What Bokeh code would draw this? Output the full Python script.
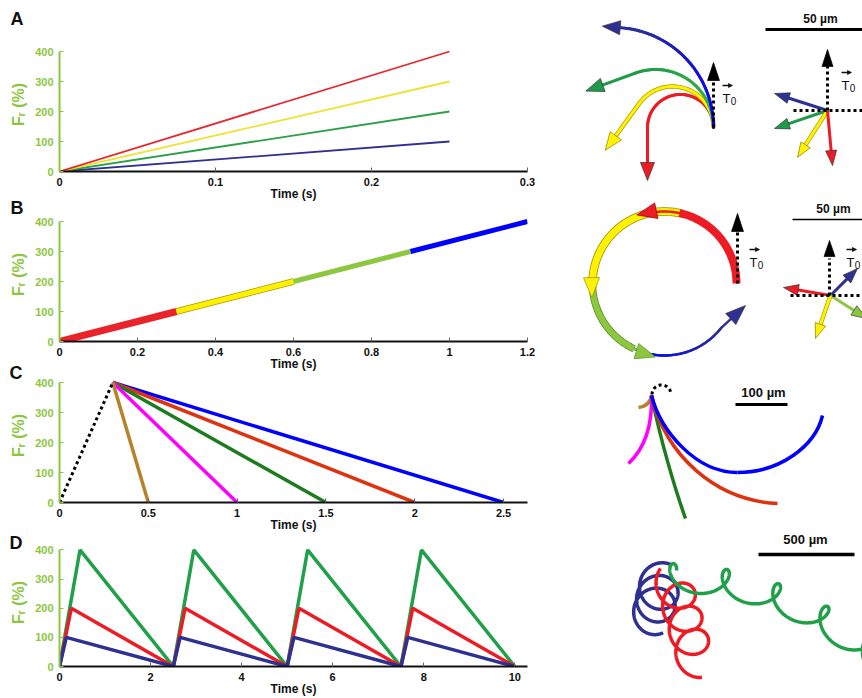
import numpy as np
from bokeh.plotting import figure
from bokeh.models import Range1d, FixedTicker
from bokeh.layouts import row, column
from bokeh.embed import file_html
from bokeh.resources import INLINE
from bokeh.core.properties import value

FONT = "Liberation Sans"
AX_GREEN = "#8cc63f"

# ---------------- chart data ----------------
Y_TICKS = [0, 100, 200, 300, 400]

A_time = [0.0, 0.25]
A_red = [0, 400]
A_yellow = [0, 300]
A_green = [0, 200]
A_blue = [0, 100]
A_xticks = [0, 0.1, 0.2, 0.3]
A_xlabels = ["0", "0.1", "0.2", "0.3"]

B_time = [0.0, 0.3, 0.6, 0.9, 1.2]
B_force = [0, 100, 200, 300, 400]
B_colors = ["#e8232a", "#fff000", "#8dc63f", "#0000ff"]
B_widths = [7, 5, 5, 5]
B_xticks = [0, 0.2, 0.4, 0.6, 0.8, 1.0, 1.2]
B_xlabels = ["0", "0.2", "0.4", "0.6", "0.8", "1", "1.2"]

C_ramp_time = [0.0, 0.3]
C_ramp_force = [0, 400]
C_decay_end = [2.5, 2.0, 1.5, 1.0, 0.5]
C_colors = ["#0000ff", "#dd3311", "#1e7b1e", "#ff00ff", "#b5832a"]
C_xticks = [0, 0.5, 1.0, 1.5, 2.0, 2.5]
C_xlabels = ["0", "0.5", "1", "1.5", "2", "2.5"]

D_time_green = [0.0, 0.45, 2.5, 2.95, 5.0, 5.45, 7.5, 7.95, 10.0]
D_force_green = [0, 400, 0, 400, 0, 400, 0, 400, 0]
D_time_red = [0.0, 0.26, 2.5, 2.76, 5.0, 5.26, 7.5, 7.76, 10.0]
D_force_red = [0, 200, 0, 200, 0, 200, 0, 200, 0]
D_time_blue = [0.0, 0.15, 2.5, 2.65, 5.0, 5.15, 7.5, 7.65, 10.0]
D_force_blue = [0, 100, 0, 100, 0, 100, 0, 100, 0]
D_xticks = [0, 2, 4, 6, 8, 10]
D_xlabels = ["0", "2", "4", "6", "8", "10"]

PANEL_LETTERS = ["A", "B", "C", "D"]
LETTER_X = [10, 10, 9, 9]
LETTER_BASE = [18, 207, 372, 542]
YLABEL_TEXT = "Fᵣ (%)"
YLABEL_X = 18
YLABEL_Y = [104, 274, 435, 602]

# ---------------- drawing parameters (right column, pixel space) ----------------
A_origin = (713, 127)
A_radius = [33, 41, 58, 100]
A_turn = [180, 144, 110, 85]
A_straight = [53, 58, 53, 20]
A_col0 = ["#ed1c24", "#fff200", "#3cb54a", "#0000ff"]
A_col1 = ["#ed1c24", "#fff200", "#1f9a48", "#2e3192"]

A_vec_origin = (827, 110)
A_vec_tip_x = [774, 774, 797, 832]
A_vec_tip_y = [93, 128, 157, 165]
A_vec_col = ["#2e3192", "#1f9a48", "#fff200", "#ed1c24"]

B_circle = (664, 283, 72)
B_band_from = [0, 76, 178]
B_band_to = [78, 180, 245]
B_band_col = ["#ed1c24", "#fff200", "#8dc63f"]
B_band_edge = [None, "#9a8c00", "#5f8f25"]
B_band_w = [8, 7, 6]
B_head_phi = [112, 191, 263]
B_blue_from, B_blue_to = 245, 322
B_blue_tip = (745, 305)

B_vec_origin = (830, 295)
B_vec_tip_x = [783, 857, 866, 815]
B_vec_tip_y = [287, 268, 318, 338]
B_vec_col = ["#ed1c24", "#2e3192", "#8dc63f", "#fff200"]

C_origin = (651, 395)
C_end_x = [638, 628, 685, 777, 737]
C_end_y = [407, 463, 518, 503, 472]
C_c0x = [650, 652, 660, 665, 660]
C_c0y = [402, 425, 440, 455, 430]
C_c1x = [645, 645, 675, 715, 695]
C_c1y = [406, 447, 490, 500, 472]
C_curve_col = ["#b5832a", "#ff00ff", "#1e7b1e", "#dd3311", "#0000ff"]
C_blue2 = (737, 472, 822, 415, 780, 472, 815, 445)

D_start_x = [670, 660, 676]
D_start_y = [564, 568, 570]
D_alpha0 = [103, 74, 0]
D_alpha1 = [103, 74, 45]
D_drift = [13, 24, 53]
D_loop_r = [20, 18, 14]
D_cycles = [2.67, 3.43, 4.7]
D_psi0 = [60, 135, 30]
D_col = ["#2e3192", "#ed1c24", "#1fa049"]

SCALE_X0 = [765, 792, 735, 758]
SCALE_X1 = [862, 862, 787, 854]
SCALE_Y = [29, 219, 404, 554]
SCALE_W = [3, 1.5, 3, 3.5]
SCALE_TXT = ["50 µm", "50 µm", "100 µm", "500 µm"]
SCALE_TX = [820, 833, 763, 805]
SCALE_TY = [18, 208, 392, 539]
SCALE_FS = ["12px", "12px", "13px", "13px"]

GUTTER_W = 28
CHART_W = 540


# ---------------- charts ----------------
def chart(h, b_top, f_h, b_left, b_right, x_end, y_end, xticks, xlabels):
    p = figure(width=CHART_W, height=h, min_border_top=b_top, min_border_bottom=h - b_top - f_h,
               min_border_left=b_left, min_border_right=b_right,
               x_range=Range1d(0, x_end), y_range=Range1d(0, y_end),
               output_backend="svg", toolbar_location=None,
               x_axis_label="Time (s)")
    p.grid.visible = False
    p.outline_line_color = None
    xa = p.xaxis[0]
    ya = p.yaxis[0]
    xa.ticker = FixedTicker(ticks=xticks)
    xa.major_label_overrides = dict(zip(xticks, xlabels))
    xa.minor_tick_line_color = None
    xa.major_tick_in = 4
    xa.major_tick_out = 0
    xa.major_tick_line_color = "#666666"
    xa.axis_line_width = 2
    xa.axis_line_color = "#111111"
    xa.major_label_text_font = FONT
    xa.major_label_text_font_style = "bold"
    xa.major_label_text_font_size = "11px"
    xa.major_label_text_color = "#111111"
    xa.major_label_standoff = 6
    xa.axis_label_text_font = FONT
    xa.axis_label_text_font_style = "bold"
    xa.axis_label_text_font_size = "12px"
    xa.axis_label_text_color = "#111111"
    xa.axis_label_standoff = -2
    ya.ticker = FixedTicker(ticks=Y_TICKS)
    ya.bounds = (0, 400)
    ya.minor_tick_line_color = None
    ya.major_tick_in = 4
    ya.major_tick_out = 0
    ya.major_tick_line_color = AX_GREEN
    ya.axis_line_color = AX_GREEN
    ya.axis_line_width = 2
    ya.major_label_text_font = FONT
    ya.major_label_text_font_style = "bold"
    ya.major_label_text_font_size = "11px"
    ya.major_label_text_color = AX_GREEN
    ya.major_label_standoff = 6
    return p


pA = chart(205, 48, 123, 57 - GUTTER_W, 41, 0.3, 410, A_xticks, A_xlabels)
for arr, col in zip([A_blue, A_green, A_yellow, A_red], ["#2e3192", "#2ca048", "#eee232", "#e8262b"]):
    pA.line(A_time, arr, line_color=col, line_width=1.8)

pB = chart(170, 13, 123, 58 - GUTTER_W, 41, 1.2, 410, B_xticks, B_xlabels)
for i in range(4):
    if i == 1:
        pB.line(B_time[i:i + 2], B_force[i:i + 2], line_color="#a89a00", line_width=B_widths[i] + 1.5)
    pB.line(B_time[i:i + 2], B_force[i:i + 2], line_color=B_colors[i], line_width=B_widths[i])

pC = chart(161, 4, 123, 58 - GUTTER_W, 41, 2.635, 410, C_xticks, C_xlabels)
for end, col in zip(C_decay_end, C_colors):
    pC.line([C_ramp_time[1], end], [C_ramp_force[1], 0], line_color=col, line_width=3.5)
pC.line(C_ramp_time, C_ramp_force, line_color="black", line_width=3, line_dash="3 3")

pD = chart(162, 12, 118, 59 - GUTTER_W, 40, 10.28, 405, D_xticks, D_xlabels)
pD.line(D_time_green, D_force_green, line_color="#1fa049", line_width=3.5)
pD.line(D_time_red, D_force_red, line_color="#ed1c24", line_width=3.5)
pD.line(D_time_blue, D_force_blue, line_color="#2e3192", line_width=3.5)

# ---------------- gutter: panel letters and y-axis titles ----------------
pG = figure(width=GUTTER_W, height=698, x_range=Range1d(0, GUTTER_W), y_range=Range1d(0, 698),
            output_backend="svg", toolbar_location=None, min_border=0,
            x_axis_location=None, y_axis_location=None)
pG.grid.visible = False
pG.outline_line_color = None
pG.text(LETTER_X, [698 - b for b in LETTER_BASE], text=PANEL_LETTERS, text_font=value(FONT),
        text_font_size="18px", text_font_style="bold", text_align="left",
        text_baseline="alphabetic", text_color="#111111")
pG.text([YLABEL_X] * 4, [698 - y for y in YLABEL_Y], text=[YLABEL_TEXT] * 4, angle=np.pi / 2,
        text_font=value(FONT), text_font_size="16px", text_font_style="bold",
        text_align="center", text_baseline="middle", text_color=AX_GREEN)

# ---------------- drawings ----------------
pR = figure(width=862 - 568, height=698, x_range=Range1d(568, 862), y_range=Range1d(698, 0),
            output_backend="svg", toolbar_location=None, min_border=0,
            x_axis_location=None, y_axis_location=None)
pR.grid.visible = False
pR.outline_line_color = None


def unit(v):
    v = np.asarray(v, float)
    return v / np.hypot(v[0], v[1])


def head(tip, d, L, W, color, edge="#333333"):
    d = unit(d)
    n = np.array([-d[1], d[0]])
    tip = np.asarray(tip, float)
    base = tip - d * L
    a = base + n * W / 2
    b = base - n * W / 2
    pR.patch([tip[0], a[0], b[0]], [tip[1], a[1], b[1]], fill_color=color,
             line_color=edge, line_width=0.7)


def hex2rgb(h):
    return np.array([int(h[i:i + 2], 16) for i in (1, 3, 5)], float)


def grad(xs, ys, c0, c1, w):
    n = len(xs) - 1
    r0, r1 = hex2rgb(c0), hex2rgb(c1)
    cols = []
    for i in range(n):
        c = np.round(r0 + (r1 - r0) * i / max(n - 1, 1)).astype(int)
        cols.append("#%02x%02x%02x" % tuple(c))
    pR.multi_line([[xs[i], xs[i + 1]] for i in range(n)], [[ys[i], ys[i + 1]] for i in range(n)],
                  line_color=cols, line_width=w, line_cap="round")


def arrow(o, tip, color, w=3, L=15, W=11, edge="#333333", outline=None):
    d = unit(np.array(tip, float) - np.array(o, float))
    end = np.array(tip, float) - d * L * 0.7
    if outline:
        pR.line([o[0], end[0]], [o[1], end[1]], line_color=outline, line_width=w + 1.3)
    pR.line([o[0], end[0]], [o[1], end[1]], line_color=color, line_width=w)
    head(tip, d, L, W, color, edge)


def dotted(xs, ys, w=3):
    pR.line(xs, ys, line_color="black", line_width=w, line_dash="3 3")


def t0(x, y):
    pR.text([x], [y], text=["T"], text_font=value(FONT), text_font_size="13px",
            text_align="center", text_baseline="alphabetic", text_color="#111111")
    pR.text([x + 7], [y + 2], text=["0"], text_font=value(FONT), text_font_size="10px",
            text_align="center", text_baseline="alphabetic", text_color="#111111")
    pR.line([x - 4, x + 3], [y - 13, y - 13], line_color="#111111", line_width=1.3)
    head((x + 6, y - 13), (1, 0), 4, 4, "#111111", "#111111")


# A: curved trajectories
ox, oy = A_origin
for R, th, L, c0, c1 in zip(A_radius, A_turn, A_straight, A_col0, A_col1):
    phi = np.radians(np.linspace(0, th, 60))
    xs = ox - R + R * np.cos(phi)
    ys = oy - R * np.sin(phi)
    t = np.radians(th)
    d = np.array([-np.sin(t), -np.cos(t)])
    tip = np.array([xs[-1], ys[-1]]) + d * L
    stop = tip - d * 11
    xs = np.append(xs, stop[0])
    ys = np.append(ys, stop[1])
    if c0 == "#fff200":
        pR.line(xs, ys, line_color="#a89a00", line_width=4.4)
        pR.line(xs, ys, line_color=c0, line_width=3)
        head(tip, d, 18, 14, c0, "#8a7d00")
    else:
        grad(xs, ys, c0, c1, 3)
        head(tip, d, 18, 14, c1)
dotted([ox, ox], [oy, 80])
head((ox, 62), (0, -1), 18, 12, "black", "black")
t0(726, 98)

# A: vectors
for tx, ty, col in zip(A_vec_tip_x, A_vec_tip_y, A_vec_col):
    if col == "#fff200":
        arrow(A_vec_origin, (tx, ty), col, edge="#8a7d00", outline="#a89a00")
    else:
        arrow(A_vec_origin, (tx, ty), col)
dotted([793, 862], [110, 110])
dotted([827, 827], [110, 66])
head((827, 49), (0, -1), 17, 11, "black", "black")
t0(845, 85)

# B: circular trajectory (bands first, heads on top)
cx, cy, r = B_circle
bands = list(zip(B_band_from, B_band_to, B_band_col, B_band_edge, B_band_w, B_head_phi))
for a0, a1, col, edge, w, hp in reversed(bands):
    phi = np.radians(np.linspace(a0, a1, 60))
    xs = cx + r * np.cos(phi)
    ys = cy - r * np.sin(phi)
    if edge:
        pR.line(xs, ys, line_color=edge, line_width=w + 1.5, line_cap="butt")
    pR.line(xs, ys, line_color=col, line_width=w, line_cap="butt")
phi = np.radians(np.linspace(B_blue_from, B_blue_to, 60))
bx = cx + r * np.cos(phi)
by = cy - r * np.sin(phi)
bd = unit(np.array(B_blue_tip) - np.array([bx[-1], by[-1]]))
stop = np.array(B_blue_tip) - bd * 12
bx = np.append(bx, stop[0])
by = np.append(by, stop[1])
grad(bx, by, "#0000ff", "#2e3192", 2.5)
head(B_blue_tip, bd, 20, 15, "#2e3192")
for a0, a1, col, edge, w, hp in bands:
    ph2 = np.radians(np.linspace(a1 - 4, hp - 8, 20))
    pR.line(cx + r * np.cos(ph2), cy - r * np.sin(ph2), line_color=col, line_width=2.5)
    hr = np.radians(hp)
    tip = (cx + (r + 2) * np.cos(hr), cy - (r + 2) * np.sin(hr))
    hd = np.radians(hp - 10)
    head(tip, (-np.sin(hd), -np.cos(hd)), 20, 16, col, edge or "#8a0000")
dotted([737, 737], [283, 231])
head((737, 213), (0, -1), 18, 12, "black", "black")
t0(753, 262)

for tx, ty, col in zip(B_vec_tip_x, B_vec_tip_y, B_vec_col):
    if col == "#fff200":
        arrow(B_vec_origin, (tx, ty), col, edge="#8a7d00", outline="#a89a00")
    else:
        arrow(B_vec_origin, (tx, ty), col)
dotted([790, 862], [295, 295])
dotted([829, 829], [295, 258])
head((829, 240), (0, -1), 16, 11, "black", "black")
t0(850, 262)

# C: curved paths after the force ceases
pR.bezier(x0=[C_origin[0]] * 5, y0=[C_origin[1]] * 5, x1=C_end_x, y1=C_end_y,
          cx0=C_c0x, cy0=C_c0y, cx1=C_c1x, cy1=C_c1y, line_color=C_curve_col, line_width=3.5)
pR.bezier(x0=[C_blue2[0]], y0=[C_blue2[1]], x1=[C_blue2[2]], y1=[C_blue2[3]],
          cx0=[C_blue2[4]], cy0=[C_blue2[5]], cx1=[C_blue2[6]], cy1=[C_blue2[7]],
          line_color="#0000ff", line_width=3.5)
phi = np.radians(np.linspace(180, 10, 30))
dotted(661 + 9.5 * np.cos(phi), 394 - 9.5 * np.sin(phi))

# D: looping trajectories
for sx, sy, a0, a1, dr, b, cyc, p0, col in zip(D_start_x, D_start_y, D_alpha0, D_alpha1,
                                                D_drift, D_loop_r, D_cycles, D_psi0, D_col):
    T = 2 * np.pi * cyc
    t = np.linspace(0, T, 700)
    al = np.radians(a0 + (a1 - a0) * t / T)
    dt = t[1] - t[0]
    a = dr / (2 * np.pi)
    ccx = np.concatenate([[0], np.cumsum(a * np.cos(al[:-1]) * dt)])
    ccy = np.concatenate([[0], np.cumsum(a * np.sin(al[:-1]) * dt)])
    psi = np.radians(p0) + t
    xs = ccx + b * np.cos(psi)
    ys = ccy - b * np.sin(psi)
    xs = xs + sx - xs[0]
    ys = ys + sy - ys[0]
    pR.line(xs, ys, line_color=col, line_width=3.5)

# scale bars
for x0, x1, y, w, txt, tx, ty, fs in zip(SCALE_X0, SCALE_X1, SCALE_Y, SCALE_W, SCALE_TXT,
                                          SCALE_TX, SCALE_TY, SCALE_FS):
    pR.line([x0, x1], [y, y], line_color="black", line_width=w)
    pR.text([tx], [ty], text=[txt], text_font=value(FONT), text_font_size=fs,
            text_font_style="bold", text_align="center", text_baseline="middle",
            text_color="#111111")

layout = row(pG, column(pA, pB, pC, pD), pR)
open("out.html", "w").write(file_html(layout, INLINE))
